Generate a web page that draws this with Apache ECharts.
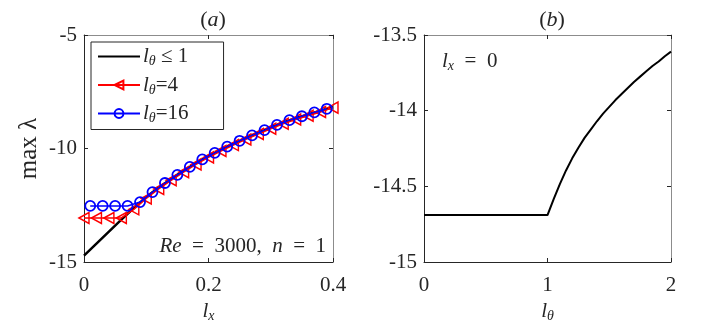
<!DOCTYPE html>
<html><head><meta charset="utf-8">
<script src="https://cdn.jsdelivr.net/npm/echarts@6/dist/echarts.min.js"></script>
<style>html,body{margin:0;padding:0;background:#fff}#c{width:706px;height:325px}</style>
</head><body><div id="c"></div>
<script>
// Panel (a): max lambda vs l_x
const lxBlack = [0,0.02,0.04,0.06,0.08,0.10,0.12,0.14,0.16,0.18,0.20,0.22,0.24,0.26,0.28,0.30,0.32,0.34,0.36,0.38,0.40];
const valBlack = [-14.72,-14.19,-13.66,-13.13,-12.62,-12.14,-11.72,-11.34,-10.98,-10.64,-10.33,-10.05,-9.79,-9.54,-9.30,-9.07,-8.85,-8.66,-8.50,-8.33,-8.17];
const lxRed = [0,0.02,0.04,0.06,0.08,0.10,0.12,0.14,0.16,0.18,0.20,0.22,0.24,0.26,0.28,0.30,0.32,0.34,0.36,0.38,0.40];
const valRed = [-13.06,-13.06,-13.06,-13.06,-12.68,-12.20,-11.78,-11.40,-11.04,-10.70,-10.39,-10.11,-9.85,-9.60,-9.36,-9.13,-8.91,-8.72,-8.56,-8.39,-8.20];
const lxBlue = [0.01,0.03,0.05,0.07,0.09,0.11,0.13,0.15,0.17,0.19,0.21,0.23,0.25,0.27,0.29,0.31,0.33,0.35,0.37,0.39];
const valBlue = [-12.53,-12.53,-12.53,-12.53,-12.36,-11.92,-11.52,-11.16,-10.81,-10.48,-10.19,-9.92,-9.66,-9.42,-9.19,-8.96,-8.75,-8.58,-8.41,-8.25];
// Panel (b): max lambda vs l_theta at l_x = 0
const lth = [0,0.5,1.0,1.05,1.1,1.15,1.2,1.25,1.3,1.35,1.4,1.45,1.5,1.55,1.6,1.65,1.7,1.75,1.8,1.85,1.9,1.95,2.0];
const valB = [-14.69,-14.69,-14.69,-14.585,-14.485,-14.395,-14.315,-14.245,-14.18,-14.125,-14.07,-14.02,-13.975,-13.93,-13.89,-13.85,-13.81,-13.775,-13.74,-13.705,-13.675,-13.64,-13.61];
const ticksA_x = [0, 0.4, 0.2];
const ticksA_y = [-15, -5, 5];
const ticksB_x = [0, 2, 1];
const ticksB_y = [-15, -13.5, 0.5];

const FONT = "'Liberation Serif', serif";
const AX = '#262626';
const FS = 21;
const zip = (a,b)=>a.map((v,i)=>[v,b[i]]);
const rich = {
  i:{fontFamily:FONT,fontStyle:'italic',fontSize:21,color:AX},
  s:{fontFamily:FONT,fontStyle:'italic',fontSize:14,color:AX,padding:[10,0,0,0]},
  n:{fontFamily:FONT,fontSize:21,color:AX}
};
function xAx(grid, t, pos, show){
  return {type:'value',gridIndex:grid,min:t[0],max:t[1],interval:t[2],position:pos,
    axisLine:{show:true,onZero:false,lineStyle:{color:pos==='top'?'#8c8c8c':AX,width:1}},
    axisTick:{show:true,inside:true,length:4,lineStyle:{color:AX}},
    axisLabel:{show:show,fontFamily:FONT,fontSize:FS,color:AX,margin:13},
    splitLine:{show:false}};
}
function yAx(grid, t, pos, show){
  return {type:'value',gridIndex:grid,min:t[0],max:t[1],interval:t[2],position:pos,
    axisLine:{show:true,onZero:false,lineStyle:{color:pos==='right'?'#8c8c8c':AX,width:1}},
    axisTick:{show:true,inside:true,length:4,lineStyle:{color:AX}},
    axisLabel:{show:show,fontFamily:FONT,fontSize:FS,color:AX,margin:7},
    splitLine:{show:false}};
}
const xs = [xAx(0,ticksA_x,'bottom',true), xAx(1,ticksB_x,'bottom',true), xAx(0,ticksA_x,'top',false), xAx(1,ticksB_x,'top',false)];
const ys = [yAx(0,ticksA_y,'left',true), yAx(1,ticksB_y,'left',true), yAx(0,ticksA_y,'right',false), yAx(1,ticksB_y,'right',false)];
xs[0].name='{i|l}{s|x}'; xs[0].nameLocation='middle'; xs[0].nameGap=36; xs[0].nameTextStyle={rich};
xs[1].name='{i|l}{s|θ}'; xs[1].nameLocation='middle'; xs[1].nameGap=36; xs[1].nameTextStyle={rich};
ys[0].name='max λ'; ys[0].nameLocation='middle'; ys[0].nameRotate=90; ys[0].nameGap=42;
ys[0].nameTextStyle={fontFamily:FONT,fontSize:25,color:AX};

const names = {k:'{i|l}{s|θ}{n| ≤ 1}', r:'{i|l}{s|θ}{n|=4}', b:'{i|l}{s|θ}{n|=16}'};
const tri = 'path://M0,50 L100,0 L100,100 Z';
const titleStyle = {fontFamily:FONT,fontSize:22,fontWeight:'normal',color:AX,rich:{i:{fontFamily:FONT,fontStyle:'italic',fontSize:22,color:AX}}};
const option = {
  animation:false,
  backgroundColor:'#fff',
  title:[
    {text:'({i|a})',left:208,top:4,textAlign:'center',textStyle:titleStyle},
    {text:'({i|b})',left:547,top:4,textAlign:'center',textStyle:titleStyle}
  ],
  grid:[
    {left:84,top:35,width:249,height:227,containLabel:false,outerBoundsMode:'none'},
    {left:424,top:35,width:247,height:227,containLabel:false,outerBoundsMode:'none'}
  ],
  xAxis:xs, yAxis:ys,
  legend:{
    left:91, top:42, orient:'vertical', itemWidth:42, itemHeight:11, itemGap:6,
    padding:[4,35,4,6], borderColor:AX, borderWidth:1, backgroundColor:'#fff',
    data:['k','r','b'],
    formatter: n => names[n],
    textStyle:{rich, padding:[0,0,0,-2]}
  },
  graphic:[
    {type:'text',right:706-326,top:236,style:{text:'{i|Re}{n|  =  3000,  }{i|n}{n|  =  1}',rich,fill:AX}},
    {type:'text',left:442,top:51,style:{text:'{i|l}{s|x}{n|  =  0}',rich,fill:AX}}
  ],
  series:[
    {name:'k',type:'line',xAxisIndex:0,yAxisIndex:0,data:zip(lxBlack,valBlack),showSymbol:false,symbol:'none',
     lineStyle:{color:'#000',width:2.5},itemStyle:{color:'#000',opacity:0},z:2},
    {name:'r',type:'line',xAxisIndex:0,yAxisIndex:0,data:zip(lxRed,valRed),symbol:tri,symbolSize:[10,11],
     lineStyle:{color:'#ff0000',width:1.5},itemStyle:{color:'rgba(0,0,0,0)',borderColor:'#ff0000',borderWidth:1.5},z:3},
    {name:'b',type:'line',xAxisIndex:0,yAxisIndex:0,data:zip(lxBlue,valBlue),symbol:'circle',symbolSize:10,
     lineStyle:{color:'#0000ff',width:1.5},itemStyle:{color:'rgba(0,0,0,0)',borderColor:'#0000ff',borderWidth:1.8},z:4},
    {name:'kb',type:'line',xAxisIndex:1,yAxisIndex:1,data:zip(lth,valB),symbol:'none',
     lineStyle:{color:'#000',width:2},z:2}
  ]
};
const chart = echarts.init(document.getElementById('c'));
chart.setOption(option);
</script></body></html>
